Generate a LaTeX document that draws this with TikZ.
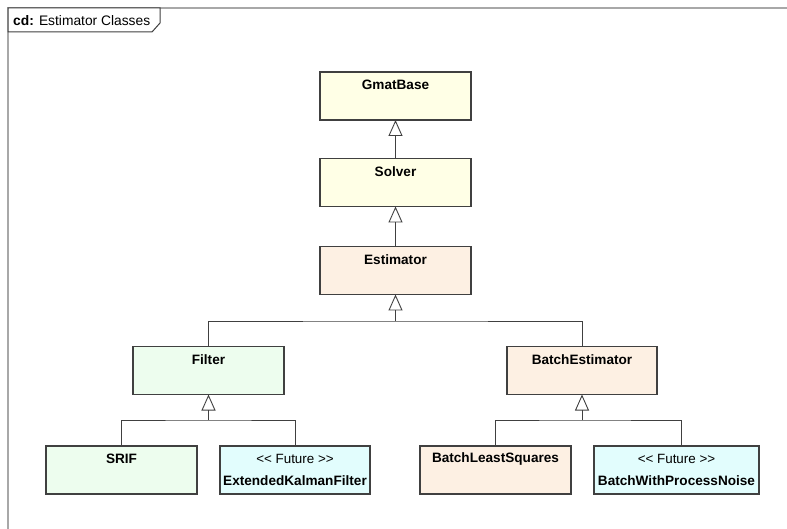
\documentclass[tikz,border=0pt]{standalone}
\usepackage{fontspec}
\setmainfont{Liberation Sans}
\usetikzlibrary{arrows.meta}
\definecolor{cyel}{HTML}{FFFFE6}
\definecolor{cpea}{HTML}{FDF0E3}
\definecolor{cgrn}{HTML}{EDFDEE}
\definecolor{ccya}{HTML}{E2FDFD}
\definecolor{boxc}{HTML}{404040}
\definecolor{linec}{HTML}{404040}
\definecolor{framec}{HTML}{A8A8A8}
\begin{document}
\begin{tikzpicture}[x=1pt,y=-1pt,
  cls/.style={draw=boxc, line width=1.1pt, minimum height=48pt, minimum width=151pt, inner sep=0pt, outer sep=0pt},
  ttl/.style={font=\fontsize{13.6}{16}\selectfont\bfseries, anchor=center, inner sep=0pt},
  ster/.style={font=\fontsize{13.4}{16}\selectfont, anchor=center, inner sep=0pt},
  gen/.style={draw=linec, line width=0.9pt, -{Triangle[open, length=16pt, width=14pt, line width=0.9pt]}},
  conn/.style={draw=linec, line width=0.9pt}]
\useasboundingbox (0,0) rectangle (787,529);
% frame
\draw[framec, line width=1.5pt] (787,8) -- (8,8) -- (8,529);
\draw[boxc, line width=1pt, fill=white] (8,8) -- (160,8) -- (160,23) -- (152,32) -- (8,32) -- cycle;
\node[anchor=west, font=\fontsize{13.8}{16}\selectfont, inner sep=0pt] (title) at (13,21) {\textbf{cd:} Estimator Classes};
% classes
\node[cls, fill=cyel, label={[ttl, name=gmatT, yshift=-13pt]north:GmatBase}] (gmat) at (395.5,96) {};
\node[cls, fill=cyel, label={[ttl, name=solverT, yshift=-13pt]north:Solver}] (solver) at (395.5,182.5) {};
\node[cls, fill=cpea, label={[ttl, name=estT, yshift=-13pt]north:Estimator}] (estimator) at (395.5,270.5) {};
\node[cls, fill=cgrn, label={[ttl, name=filterT, yshift=-13pt]north:Filter}] (filter) at (208.5,370.5) {};
\node[cls, fill=cpea, minimum width=150pt, label={[ttl, name=beT, yshift=-13pt]north:BatchEstimator}] (batchest) at (582,370.5) {};
\node[cls, fill=cgrn, label={[ttl, name=srifT, yshift=-13pt]north:SRIF}] (srif) at (121.5,470) {};
\node[cls, fill=ccya, minimum width=150pt,
  label={[ster, name=ekfS, yshift=-13pt]north:{<{}< Future >{}>}},
  label={[ttl, name=ekfT, yshift=-35pt]north:ExtendedKalmanFilter}] (ekf) at (295,470) {};
\node[cls, fill=cpea, label={[ttl, name=blsT, yshift=-13pt]north:BatchLeastSquares}] (bls) at (495.5,470) {};
\node[cls, fill=ccya, minimum width=165pt,
  label={[ster, name=bwpnS, yshift=-13pt]north:{<{}< Future >{}>}},
  label={[ttl, name=bwpnT, yshift=-35pt]north:BatchWithProcessNoise}] (bwpn) at (676.5,470) {};
% generalizations
\draw[gen] (solver.north) -- (gmat.south);
\draw[gen] (estimator.north) -- (solver.south);
\coordinate (b1) at (estimator.south |- 0,321);
\draw[conn] (filter.north) |- (b1) -| (batchest.north);
\draw[gen] (b1) -- (estimator.south);
\coordinate (b2) at (filter.south |- 0,420);
\draw[conn] (srif.north) |- (b2) -| (ekf.north);
\draw[gen] (b2) -- (filter.south);
\coordinate (b3) at (batchest.south |- 0,420);
\draw[conn] (bls.north) |- (b3) -| ([xshift=4.5pt]bwpn.north);
\draw[gen] (b3) -- (batchest.south);
\end{tikzpicture}
\end{document}
